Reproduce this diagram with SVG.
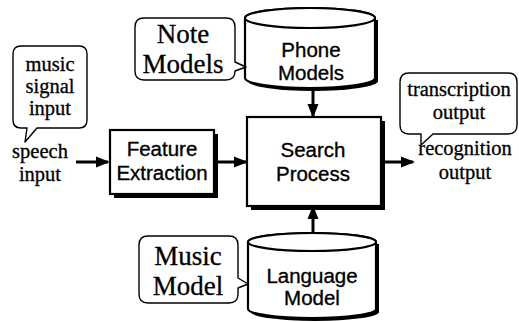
<svg xmlns="http://www.w3.org/2000/svg" width="519" height="322" viewBox="0 0 519 322">
<style>
.box{fill:#fff;stroke:#000;stroke-width:2.2}
.shadow{fill:#000}
.call{fill:#fff;stroke:#000;stroke-width:1.4;stroke-linejoin:round}
.sans{font-family:"Liberation Sans",Arial,sans-serif;font-size:20.5px;fill:#000;stroke:#000;stroke-width:0.35;text-anchor:middle}
.serif{font-family:"Liberation Serif","Times New Roman",serif;font-size:20.5px;fill:#000;stroke:#000;stroke-width:0.3;text-anchor:middle}
.big{font-size:27px}
.conn{stroke:#000;stroke-width:3;fill:none}
</style>
<defs>
<marker id="ah" markerWidth="14" markerHeight="12" refX="12" refY="6" orient="auto" markerUnits="userSpaceOnUse">
<path d="M0,0.5 L14,6 L0,11.5 Z" fill="#000"/>
</marker>
</defs>
<rect width="519" height="322" fill="#fff"/>

<g id="connectors">
<line class="conn" x1="76" y1="162" x2="108" y2="162" marker-end="url(#ah)"/>
<line class="conn" x1="218" y1="162" x2="246" y2="162" marker-end="url(#ah)"/>
<line class="conn" x1="385" y1="162" x2="413" y2="162" marker-end="url(#ah)"/>
<line class="conn" x1="313" y1="89" x2="313" y2="116" marker-end="url(#ah)"/>
<line class="conn" x1="313" y1="242" x2="313" y2="207" marker-end="url(#ah)"/>
</g>

<g id="feature-extraction">
<rect class="shadow" x="114" y="134" width="104" height="64"/>
<rect class="box" x="110" y="130" width="104" height="64"/>
<text class="sans" x="162" y="156">Feature</text>
<text class="sans" x="162" y="180">Extraction</text>
</g>

<g id="search-process">
<rect class="shadow" x="251" y="121" width="134" height="89"/>
<rect class="box" x="247" y="117" width="134" height="89"/>
<text class="sans" x="313" y="157">Search</text>
<text class="sans" x="313" y="181">Process</text>
</g>

<g id="phone-models">
<path class="shadow" d="M248,20 V81 A65,10 0 0 0 378,81 V20 Z"/>
<path class="box" d="M245,18 V78 A65,10 0 0 0 375,78 V18 A65,10 0 0 0 245,18 Z"/>
<ellipse class="box" cx="310" cy="18" rx="65" ry="10"/>
<text class="sans" x="311" y="57">Phone</text>
<text class="sans" x="311" y="80">Models</text>
</g>

<g id="language-model">
<path class="shadow" d="M251,244 V312 A64,9 0 0 0 379,312 V244 Z"/>
<path class="box" d="M248,242 V309 A64,9 0 0 0 376,309 V242 A64,9 0 0 0 248,242 Z"/>
<ellipse class="box" cx="312" cy="242" rx="64" ry="9"/>
<text class="sans" x="312" y="283">Language</text>
<text class="sans" x="312" y="305">Model</text>
</g>

<g id="speech-input">
<text class="serif" x="40" y="158">speech</text>
<text class="serif" x="40" y="181">input</text>
</g>

<g id="music-signal-input">
<path class="call" d="M21,46 H79 Q87,46 87,54 V120 Q87,128 79,128 H37 L25,142 L27,128 H21 Q13,128 13,120 V54 Q13,46 21,46 Z"/>
<text class="serif" x="50" y="71">music</text>
<text class="serif" x="50" y="93">signal</text>
<text class="serif" x="50" y="115">input</text>
</g>

<g id="note-models">
<path class="call" d="M144,18 H226 Q235,18 235,27 V62 L246,67 L235,71 V71 Q235,80 226,80 H144 Q135,80 135,71 V27 Q135,18 144,18 Z"/>
<text class="serif big" x="183" y="43">Note</text>
<text class="serif big" x="183" y="73">Models</text>
</g>

<g id="music-model">
<path class="call" d="M148,236 H229 Q238,236 238,245 V278 L248,284 L238,288 V294 Q238,303 229,303 H148 Q139,303 139,294 V245 Q139,236 148,236 Z"/>
<text class="serif big" x="188" y="265">Music</text>
<text class="serif big" x="188" y="295">Model</text>
</g>

<g id="transcription-output">
<path class="call" d="M409,73 H508 Q517,73 517,82 V125 Q517,134 508,134 H433 L421,145 L421,134 H409 Q400,134 400,125 V82 Q400,73 409,73 Z"/>
<text class="serif" x="459" y="96">transcription</text>
<text class="serif" x="459" y="119">output</text>
</g>

<g id="recognition-output">
<text class="serif" x="465" y="155">recognition</text>
<text class="serif" x="465" y="179">output</text>
</g>
</svg>
